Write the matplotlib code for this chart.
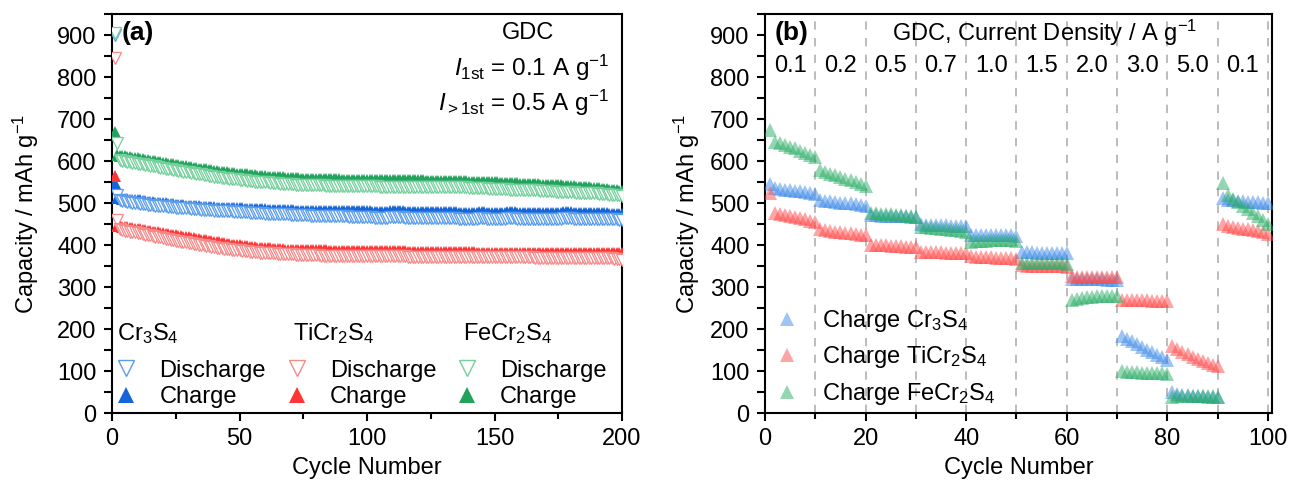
import matplotlib
matplotlib.use("Agg")
import matplotlib.pyplot as plt
from matplotlib.lines import Line2D
from matplotlib.ticker import MultipleLocator

plt.rcParams['font.family'] = ['Liberation Sans', 'DejaVu Sans']
plt.rcParams['mathtext.fontset'] = 'custom'
plt.rcParams['mathtext.rm'] = 'Liberation Sans'
plt.rcParams['mathtext.it'] = 'Liberation Sans:italic'
plt.rcParams['mathtext.bf'] = 'Liberation Sans:bold'

# ---------------- (a) long cycling data, cycles 1..200 ----------------
cycles_a = list(range(1, 201))

cr_charge = [548,
    512, 511, 510, 510, 509, 508, 508, 507, 506,
    506, 505, 504, 503, 503, 502, 501, 501, 500, 499,
    499, 498, 497, 497, 496, 496, 495, 495, 494, 494,
    493, 493, 492, 492, 491, 491, 491, 490, 490, 490,
    489, 489, 489, 488, 488, 488, 488, 487, 487, 487,
    487, 486, 486, 486, 486, 485, 485, 485, 485, 485,
    484, 484, 484, 484, 484, 483, 483, 483, 483, 483,
    483, 482, 482, 482, 482, 482, 482, 482, 481, 481,
    481, 481, 481, 481, 481, 481, 481, 480, 480, 480,
    480, 480, 480, 480, 480, 480, 480, 480, 480, 480,
    480, 479, 479, 479, 479, 479, 479, 479, 480, 480,
    481, 481, 480, 480, 479, 479, 479, 478, 478, 478,
    478, 478, 478, 478, 479, 479, 479, 478, 478, 478,
    478, 478, 478, 478, 478, 477, 477, 477, 477, 477,
    477, 477, 477, 478, 478, 478, 477, 477, 477, 476,
    476, 476, 476, 477, 478, 479, 479, 478, 477, 477,
    476, 476, 476, 476, 476, 476, 477, 477, 477, 476,
    476, 476, 476, 476, 476, 477, 478, 479, 479, 478,
    477, 477, 476, 476, 476, 476, 476, 476, 477, 477,
    476, 476, 476, 476, 475, 475, 475, 475, 475, 475]

cr_discharge = [900, 520,
    506, 505, 504, 503, 502, 501, 500, 499,
    498, 497, 497, 496, 495, 495, 494, 493, 493, 492,
    492, 491, 490, 490, 489, 489, 488, 488, 487, 487,
    486, 486, 485, 485, 484, 484, 484, 483, 483, 482,
    482, 482, 481, 481, 480, 480, 480, 479, 479, 479,
    478, 478, 478, 477, 477, 477, 476, 476, 476, 475,
    475, 475, 474, 474, 474, 474, 473, 473, 473, 472,
    472, 472, 472, 471, 471, 471, 471, 470, 470, 470,
    470, 469, 469, 469, 469, 469, 468, 468, 468, 468,
    468, 468, 467, 467, 467, 467, 467, 467, 466, 466,
    466, 466, 465, 465, 465, 465, 465, 465, 466, 466,
    467, 467, 466, 466, 465, 465, 465, 465, 464, 464,
    464, 464, 464, 464, 465, 465, 465, 464, 464, 464,
    464, 464, 464, 464, 464, 463, 463, 463, 463, 463,
    463, 463, 463, 464, 464, 464, 463, 463, 463, 462,
    462, 462, 462, 463, 464, 465, 465, 464, 463, 463,
    462, 462, 462, 462, 462, 462, 463, 463, 463, 462,
    462, 462, 462, 462, 462, 463, 464, 465, 465, 464,
    463, 463, 462, 462, 462, 462, 462, 462, 463, 463,
    462, 462, 462, 462, 461, 461, 461, 461, 460, 459]

ti_charge = [565,
    446, 445, 444, 443, 442, 441, 440, 439, 438,
    437, 436, 435, 434, 433, 432, 431, 430, 429, 428,
    427, 426, 425, 424, 423, 422, 421, 420, 419, 418,
    417, 416, 415, 414, 413, 412, 411, 410, 409, 408,
    407, 406, 405, 404, 403, 402, 401, 400, 400, 399,
    398, 397, 397, 396, 395, 395, 394, 394, 393, 393,
    392, 392, 391, 391, 390, 390, 390, 389, 389, 389,
    389, 388, 388, 388, 388, 388, 387, 387, 387, 387,
    387, 387, 387, 387, 386, 386, 386, 386, 386, 386,
    386, 386, 386, 386, 386, 386, 386, 386, 386, 386,
    386, 386, 386, 386, 385, 385, 385, 385, 385, 385,
    385, 385, 385, 385, 385, 384, 384, 384, 384, 384,
    384, 384, 384, 384, 384, 384, 384, 383, 383, 383,
    383, 383, 383, 383, 383, 383, 383, 383, 383, 383,
    383, 383, 382, 382, 382, 382, 382, 382, 382, 382,
    382, 382, 382, 382, 382, 382, 382, 382, 382, 382,
    382, 382, 382, 382, 382, 382, 382, 381, 381, 381,
    381, 381, 381, 381, 381, 381, 381, 381, 381, 381,
    381, 381, 381, 381, 381, 381, 381, 381, 381, 381,
    381, 381, 381, 380, 380, 380, 380, 380, 380, 380]

ti_discharge = [845, 460,
    438, 436, 434, 433, 432, 431, 430, 429,
    428, 426, 425, 424, 423, 421, 420, 419, 418, 416,
    415, 414, 413, 412, 410, 409, 408, 407, 406, 405,
    404, 403, 402, 401, 400, 399, 398, 397, 396, 395,
    394, 393, 392, 391, 391, 390, 389, 388, 388, 387,
    386, 386, 385, 384, 384, 383, 383, 382, 382, 381,
    381, 380, 380, 380, 379, 379, 379, 378, 378, 378,
    378, 377, 377, 377, 377, 376, 376, 376, 376, 376,
    376, 375, 375, 375, 375, 375, 375, 375, 375, 375,
    374, 374, 374, 374, 374, 374, 374, 374, 374, 374,
    374, 374, 374, 373, 373, 373, 373, 373, 373, 373,
    373, 373, 373, 373, 373, 372, 372, 372, 372, 372,
    372, 372, 372, 372, 372, 372, 372, 372, 372, 372,
    372, 372, 372, 372, 372, 371, 371, 371, 371, 371,
    371, 371, 371, 371, 371, 371, 371, 371, 371, 371,
    371, 371, 371, 371, 371, 371, 371, 371, 371, 371,
    371, 371, 371, 371, 371, 370, 370, 370, 370, 370,
    370, 370, 370, 370, 370, 370, 370, 370, 370, 370,
    370, 370, 370, 370, 370, 370, 369, 369, 369, 369,
    369, 369, 369, 368, 368, 368, 367, 367, 366, 365]

fe_charge = [670,
    614, 613, 612, 611, 610, 609, 608, 607, 606,
    605, 604, 603, 602, 601, 600, 599, 598, 597, 596,
    595, 594, 593, 592, 591, 590, 589, 588, 587, 586,
    585, 584, 583, 582, 581, 580, 580, 579, 578, 577,
    576, 575, 575, 574, 573, 572, 572, 571, 570, 570,
    569, 568, 568, 567, 566, 566, 565, 565, 564, 564,
    563, 563, 562, 562, 561, 561, 561, 560, 560, 560,
    559, 559, 559, 558, 558, 558, 558, 557, 557, 557,
    557, 557, 556, 556, 556, 556, 556, 556, 556, 555,
    555, 555, 555, 555, 555, 555, 555, 555, 555, 555,
    555, 555, 555, 555, 554, 554, 554, 554, 554, 554,
    554, 554, 554, 554, 554, 554, 554, 554, 554, 554,
    554, 554, 553, 553, 553, 553, 553, 553, 553, 553,
    553, 553, 553, 552, 552, 552, 552, 552, 552, 551,
    551, 551, 551, 550, 550, 550, 550, 549, 549, 549,
    549, 548, 548, 548, 548, 547, 547, 547, 547, 546,
    546, 546, 546, 545, 545, 545, 545, 544, 544, 544,
    543, 543, 543, 542, 542, 542, 541, 541, 540, 540,
    540, 539, 539, 538, 538, 537, 537, 536, 536, 535,
    535, 534, 533, 533, 532, 531, 530, 530, 529, 528]

fe_discharge = [905, 642,
    603, 601, 599, 598, 597, 596, 595, 594,
    593, 592, 591, 590, 589, 588, 587, 585, 584, 583,
    582, 581, 580, 579, 578, 577, 576, 575, 574, 573,
    572, 571, 570, 569, 568, 567, 566, 565, 564, 563,
    562, 561, 560, 560, 559, 558, 557, 557, 556, 555,
    555, 554, 553, 553, 552, 551, 551, 550, 550, 549,
    549, 548, 548, 547, 547, 546, 546, 546, 545, 545,
    545, 544, 544, 544, 543, 543, 543, 543, 542, 542,
    542, 542, 542, 541, 541, 541, 541, 541, 541, 540,
    540, 540, 540, 540, 540, 540, 540, 540, 540, 540,
    540, 540, 540, 540, 539, 539, 539, 539, 539, 539,
    539, 539, 539, 539, 539, 539, 539, 539, 539, 539,
    539, 539, 538, 538, 538, 538, 538, 538, 538, 538,
    538, 538, 538, 537, 537, 537, 537, 537, 537, 536,
    536, 536, 536, 535, 535, 535, 535, 534, 534, 534,
    534, 533, 533, 533, 533, 532, 532, 532, 532, 531,
    531, 531, 531, 530, 530, 530, 530, 529, 529, 529,
    528, 528, 528, 527, 527, 527, 527, 526, 526, 526,
    526, 525, 525, 525, 524, 524, 524, 523, 523, 523,
    522, 522, 521, 521, 520, 520, 519, 519, 518, 517]

# ---------------- (b) rate capability, cycles 1..100 ----------------
cycles_b = list(range(1, 101))
rate_labels = ['0.1', '0.2', '0.5', '0.7', '1.0', '1.5', '2.0', '3.0', '5.0', '0.1']
rate_boundaries = [10, 20, 30, 40, 50, 60, 70, 80, 90, 100]

rate_cr = [545, 535, 533, 532, 530, 529, 528, 526, 524, 522,
           507, 505, 504, 502, 501, 500, 499, 498, 496, 494,
           472, 471, 470, 470, 469, 469, 468, 468, 467, 466,
           449, 448, 448, 447, 447, 447, 446, 446, 445, 445,
           425, 425, 424, 424, 424, 424, 423, 423, 423, 422,
           384, 383, 383, 382, 382, 382, 381, 381, 381, 380,
           320, 319, 319, 318, 318, 318, 318, 317, 317, 317,
           183, 177, 171, 164, 158, 151, 145, 139, 133, 127,
           50, 45, 43, 42, 41, 40, 40, 39, 39, 38,
           512, 508, 506, 505, 504, 503, 502, 502, 501, 500]

rate_ti = [524, 476, 474, 472, 469, 467, 464, 461, 458, 455,
           437, 435, 434, 432, 431, 429, 428, 427, 425, 424,
           401, 400, 400, 399, 398, 398, 397, 396, 396, 395,
           384, 384, 383, 383, 383, 382, 382, 382, 381, 381,
           373, 372, 372, 371, 371, 370, 370, 369, 368, 367,
           352, 351, 351, 350, 350, 350, 349, 349, 349, 348,
           326, 325, 325, 325, 325, 324, 324, 324, 324, 323,
           270, 269, 269, 268, 268, 268, 267, 267, 267, 266,
           160, 152, 146, 140, 134, 129, 124, 119, 115, 111,
           450, 445, 443, 441, 439, 437, 435, 433, 430, 427]

rate_fe = [674, 646, 642, 638, 634, 630, 625, 620, 615, 610,
           578, 574, 570, 566, 562, 558, 554, 550, 545, 540,
           477, 476, 475, 474, 473, 472, 471, 470, 469, 467,
           443, 442, 441, 440, 439, 438, 436, 435, 433, 432,
           407, 409, 410, 410, 411, 411, 411, 411, 411, 410,
           356, 357, 357, 357, 357, 357, 356, 356, 356, 355,
           268, 272, 274, 276, 277, 278, 278, 279, 279, 278,
           99, 98, 97, 97, 96, 96, 96, 95, 95, 94,
           39, 40, 40, 40, 40, 40, 40, 40, 40, 39,
           548, 518, 510, 502, 494, 486, 476, 468, 460, 451]

# ---------------- styling ----------------
C_BLUE, C_BLUE_L = '#1565d8', '#5a9cec'
C_RED, C_RED_L = '#ff3535', '#f68a8a'
C_GREEN, C_GREEN_L = '#21a35c', '#74cf9c'
R_BLUE, R_RED, R_GREEN = '#3c8ae8', '#ff4a4a', '#2aae66'

FS = 17

fig = plt.figure(figsize=(12.9, 4.84), dpi=100)
ax1 = fig.add_axes([112/1290, 1-413/484, 510/1290, 399/484])
ax2 = fig.add_axes([765/1290, 1-413/484, 507/1290, 399/484])

MS = 9
series_a = [
    (cr_charge, cr_discharge, C_BLUE, C_BLUE_L),
    (ti_charge, ti_discharge, C_RED, C_RED_L),
    (fe_charge, fe_discharge, C_GREEN, C_GREEN_L),
]
dis_handles, chg_handles = [], []
for chg, dis, c, cl in series_a:
    h_c, = ax1.plot(cycles_a, chg, linestyle='none', marker='^', ms=MS,
                    mfc=c, mec=c, mew=0.0, zorder=3)
    h_d, = ax1.plot(cycles_a, dis, linestyle='none', marker='v', ms=MS,
                    mfc='white', mec=cl, mew=0.9, zorder=3)
    dis_handles.append(h_d)
    chg_handles.append(h_c)

ax1.set_xlim(0, 200)
ax1.set_ylim(0, 950)
ax1.xaxis.set_major_locator(MultipleLocator(50))
ax1.xaxis.set_minor_locator(MultipleLocator(25))
ax1.yaxis.set_major_locator(MultipleLocator(100))
ax1.yaxis.set_minor_locator(MultipleLocator(50))
ax1.set_xlabel('Cycle Number', fontsize=FS, labelpad=5)
ax1.set_ylabel('Capacity / mAh g$^{-1}$', fontsize=FS, labelpad=12)

ax1.text(0.018, 0.952, '(a)', transform=ax1.transAxes, fontsize=19,
         fontweight='bold', ha='left', va='center')
ax1.text(0.815, 0.952, 'GDC', transform=ax1.transAxes, fontsize=FS,
         ha='center', va='center')
ax1.text(0.975, 0.865, r'$\mathit{I}_{\rm 1st}$ = 0.1 A g$^{-1}$', transform=ax1.transAxes,
         fontsize=17.5, ha='right', va='center')
ax1.text(0.975, 0.778, r'$\mathit{I}_{\rm >1st}$ = 0.5 A g$^{-1}$', transform=ax1.transAxes,
         fontsize=17.5, ha='right', va='center')

# legend (a)
handles = []
labels = []
for hd, hc in zip(dis_handles, chg_handles):
    handles += [Line2D([], [], linestyle='none', marker='v', ms=12, mfc='white',
                       mec=hd.get_mec(), mew=1.0),
                Line2D([], [], linestyle='none', marker='^', ms=12, mfc=hc.get_mfc(),
                       mec=hc.get_mfc(), mew=0)]
    labels += ['Discharge', 'Charge']
leg1 = ax1.legend(handles, labels, ncol=3, loc='lower left', bbox_to_anchor=(-0.004, 0.0),
                  frameon=False, fontsize=FS, handlelength=1.0, handletextpad=0.9,
                  columnspacing=0.8, labelspacing=0.2, borderaxespad=0.0, borderpad=0.2)
headers = ['Cr$_3$S$_4$', 'TiCr$_2$S$_4$', 'FeCr$_2$S$_4$']
for xh, txt in zip([0.01, 0.355, 0.688], headers):
    ax1.text(xh, 0.2, txt, transform=ax1.transAxes, fontsize=FS, ha='left', va='center')

# ---------------- (b) ----------------
RMS = 10.5
for vals, c, lab in [(rate_cr, R_BLUE, 'Charge Cr$_3$S$_4$'),
                     (rate_ti, R_RED, 'Charge TiCr$_2$S$_4$'),
                     (rate_fe, R_GREEN, 'Charge FeCr$_2$S$_4$')]:
    ax2.plot(cycles_b, vals, linestyle='none', marker='^', ms=RMS, mfc=c, mec=c,
             mew=0.0, alpha=0.5, label=lab, zorder=3)

for b in rate_boundaries:
    ax2.axvline(b, color='#b0b0b0', lw=1.2, ls=(0, (5, 5)), zorder=1)

ax2.set_xlim(0, 100.8)
ax2.set_ylim(0, 950)
ax2.xaxis.set_major_locator(MultipleLocator(20))
ax2.xaxis.set_minor_locator(MultipleLocator(10))
ax2.yaxis.set_major_locator(MultipleLocator(100))
ax2.yaxis.set_minor_locator(MultipleLocator(50))
ax2.set_xlabel('Cycle Number', fontsize=FS, labelpad=5)
ax2.set_ylabel('Capacity / mAh g$^{-1}$', fontsize=FS, labelpad=6)

ax2.text(0.018, 0.952, '(b)', transform=ax2.transAxes, fontsize=19,
         fontweight='bold', ha='left', va='center')
ax2.text(0.552, 0.952, 'GDC, Current Density / A g$^{-1}$', transform=ax2.transAxes,
         fontsize=FS, ha='center', va='center')
starts = [0] + rate_boundaries[:-1]
for s, e, lab in zip(starts, rate_boundaries, rate_labels):
    ax2.text((s + e) / 2, 826, lab, fontsize=FS, ha='center', va='center')

leg2 = ax2.legend(loc='lower left', bbox_to_anchor=(0.008, 0.0), frameon=False,
                  fontsize=FS, handlelength=1.0, handletextpad=1.0,
                  labelspacing=0.45, borderaxespad=0.0, borderpad=0.25, markerscale=1.0)

for ax in (ax1, ax2):
    for sp in ax.spines.values():
        sp.set_linewidth(1.5)
    ax.tick_params(axis='both', which='major', direction='out', length=6, width=1.5,
                   labelsize=FS, pad=5)
    ax.tick_params(axis='both', which='minor', direction='out', length=4, width=1.5)
    ax.tick_params(axis='y', which='minor', length=6)

fig.savefig('out.png', dpi=100)
